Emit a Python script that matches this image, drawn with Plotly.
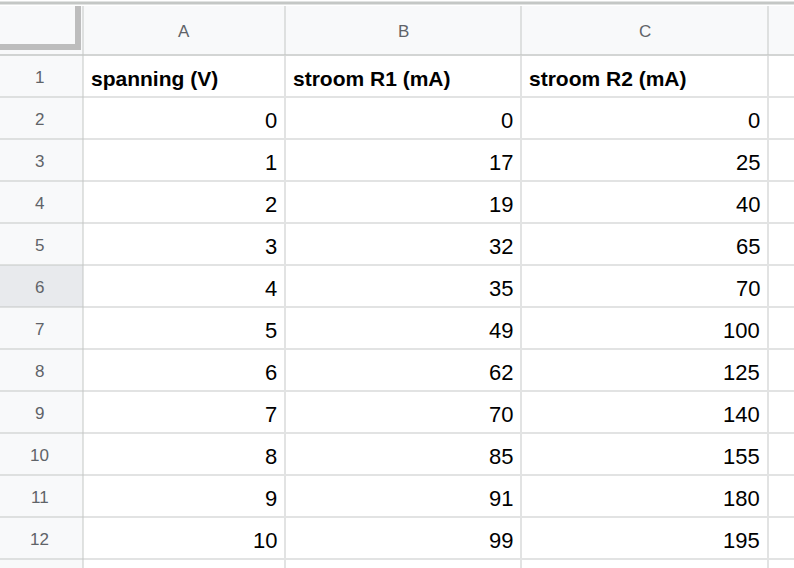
import plotly.graph_objects as go

W, H = 794, 568
columns = ["A", "B", "C"]
headers = ["spanning (V)", "stroom R1 (mA)", "stroom R2 (mA)"]
spanning = [0, 1, 2, 3, 4, 5, 6, 7, 8, 9, 10]
stroom_r1 = [0, 17, 19, 32, 35, 49, 62, 70, 85, 91, 99]
stroom_r2 = [0, 25, 40, 65, 70, 100, 125, 140, 155, 180, 195]

col_x = [0, 83, 285, 521, 768, 800]  # column edges
row_top = 55
row_h = 42
head_top = 6
selected_row = 6

grid = "#e2e3e3"
hdr_line = "#c4c7c5"
shapes, ann = [], []

def line(x0, y0, x1, y1, c, w=1):
    shapes.append(dict(type="line", x0=x0, y0=y0, x1=x1, y1=y1, line=dict(color=c, width=w)))

def rect(x0, y0, x1, y1, c):
    shapes.append(dict(type="rect", x0=x0, y0=y0, x1=x1, y1=y1, fillcolor=c, line=dict(width=0), layer="below"))

n_rows = len(spanning) + 1
# header backgrounds
rect(0, 0, W, head_top, "#ffffff")
rect(0, head_top, W, row_top, "#f8f9fa")
rect(0, row_top, col_x[1], H, "#f8f9fa")
sy = row_top + row_h * (selected_row - 1)
rect(0, sy, col_x[1], sy + row_h, "#e8eaed")

# grid lines
for i in range(n_rows + 1):
    y = row_top + row_h * i
    line(col_x[1], y, W, y, grid, 2)
    line(0, y, col_x[1], y, hdr_line, 1)
for x in col_x[2:5]:
    line(x, row_top, x, H, grid, 2)
    line(x, head_top, x, row_top, hdr_line, 1)
line(col_x[1], head_top, col_x[1], H, hdr_line, 1)
line(0, row_top, W, row_top, hdr_line, 1)
# top bar and frozen corner
line(0, 3, W, 3, "#c4c7c5", 3)
line(78, head_top, 78, 47, "#bdbdbd", 6)
line(0, 47, 81, 47, "#bdbdbd", 6)

font = "Liberation Sans, Arial"
for j, c in enumerate(columns):
    ann.append(dict(x=(col_x[j + 1] + col_x[j + 2]) / 2, y=31, text=c, showarrow=False,
                    font=dict(family=font, size=17, color="#5f6368")))
for i in range(n_rows):
    yc = row_top + row_h * i + row_h / 2 + 1
    ann.append(dict(x=col_x[1] / 2 - 2, y=yc, text=str(i + 1), showarrow=False,
                    font=dict(family=font, size=17, color="#5f6368")))
for j, h in enumerate(headers):
    ann.append(dict(x=col_x[j + 1] + 6, y=row_top + row_h / 2 + 2, text="<b>%s</b>" % h, showarrow=False,
                    xanchor="left", font=dict(family=font, size=21, color="#000000")))
for j, vals in enumerate([spanning, stroom_r1, stroom_r2]):
    for i, v in enumerate(vals):
        yc = row_top + row_h * (i + 1) + row_h / 2 + 2
        ann.append(dict(x=col_x[j + 2] - 6, y=yc, text=str(v), showarrow=False, xanchor="right",
                        font=dict(family=font, size=22, color="#000000")))

fig = go.Figure()
fig.update_layout(
    width=W, height=H, margin=dict(l=0, r=0, t=0, b=0),
    paper_bgcolor="white", plot_bgcolor="white",
    xaxis=dict(range=[0, W], visible=False, fixedrange=True),
    yaxis=dict(range=[H, 0], visible=False, fixedrange=True),
    shapes=shapes, annotations=ann, showlegend=False,
)
fig.write_html("out.html", config=dict(displayModeBar=False),
               post_script="document.body.style.margin='0';document.body.style.overflow='hidden';")
